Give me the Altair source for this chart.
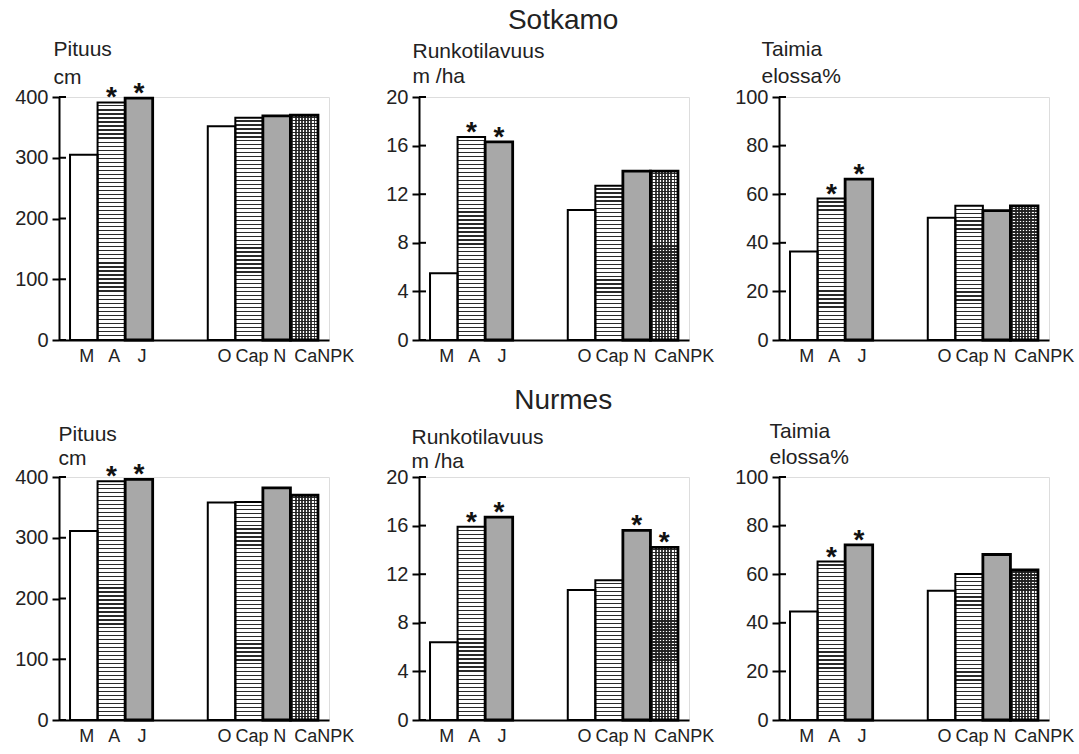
import altair as alt
import pandas as pd

# ---- data ----
slots = ["M", "A", "J", " ", "  ", "O", "Cap", "N", "CaNPK"]   # two blank slots form the gap
bar_cats = ["M", "A", "J", "O", "Cap", "N", "CaNPK"]

sotkamo_pituus = [305, 391, 398, 352, 366, 369, 370]
sotkamo_runko = [5.5, 16.7, 16.3, 10.7, 12.7, 13.9, 13.9]
sotkamo_taimia = [36.4, 58.2, 66.2, 50.3, 55.2, 53.2, 55.2]

nurmes_pituus = [311, 393, 396, 358, 359, 382, 370]
nurmes_runko = [6.4, 15.9, 16.7, 10.7, 11.5, 15.6, 14.2]
nurmes_taimia = [44.7, 65.2, 72.1, 53.2, 60.1, 68.1, 61.8]

sotkamo_stars = [["A", "J"], ["A", "J"], ["A", "J"]]
nurmes_stars = [["A", "J"], ["A", "J", "N", "CaNPK"], ["A", "J"]]

pituus_ticks = [0, 100, 200, 300, 400]
runko_ticks = [0, 4, 8, 12, 16, 20]
taimia_ticks = [0, 20, 40, 60, 80, 100]

FONT = "Liberation Sans"
W, H = 270, 243


def stripes(n, vertical=False, light="#ffffff", dark="#111111", frac=0.62):
    stops = []
    for i in range(n):
        stops += [
            alt.GradientStop(offset=i / n, color=light),
            alt.GradientStop(offset=(i + frac) / n, color=light),
            alt.GradientStop(offset=(i + frac) / n, color=dark),
            alt.GradientStop(offset=(i + 1) / n, color=dark),
        ]
    if vertical:
        return alt.LinearGradient(gradient="linear", stops=stops, x1=0, x2=1, y1=0, y2=0)
    return alt.LinearGradient(gradient="linear", stops=stops, x1=0, x2=0, y1=0, y2=1)


def panel(values, stars, ticks, title_lines, tx, ty, lh):
    ymax = ticks[-1]
    df = pd.DataFrame({"cat": bar_cats, "value": values})
    df["star"] = df["cat"].isin(stars)
    x = alt.X(
        "cat:N",
        scale=alt.Scale(domain=slots, paddingInner=0, paddingOuter=0.4),
        axis=alt.Axis(title=None, ticks=False, labelAngle=0, domainWidth=2,
                      domainColor="black", labelFontSize=18, labelColor="#222",
                      labelPadding=7, labelFont=FONT,
                      labelOffset=alt.condition("datum.value == 'CaNPK'", alt.value(20), alt.value(3))),
    )
    y = alt.Y(
        "value:Q",
        scale=alt.Scale(domain=[0, ymax], nice=False),
        axis=alt.Axis(values=ticks, title=title_lines, titleAngle=0, titleAlign="left",
                      titleBaseline="alphabetic", titleX=tx, titleY=ty, titleLineHeight=lh,
                      titleFontSize=21, titleFontWeight="normal", titleColor="#222",
                      titleFont=FONT, grid=False, tickSize=7, tickWidth=2, tickColor="black",
                      domainWidth=2, domainColor="black", labelFontSize=20, labelColor="#222",
                      labelFont=FONT, labelPadding=4),
    )
    base = alt.Chart(df).encode(x=x, y=y)

    def only(cats):
        return base.transform_filter(alt.FieldOneOfPredicate(field="cat", oneOf=cats))

    layers = [only(["M", "O"]).mark_bar(fill="white", strokeWidth=0)]
    for c in ["A", "Cap"]:
        v = values[bar_cats.index(c)]
        n = max(1, round(v / ymax * H / 4.0))
        layers.append(only([c]).mark_bar(fill=stripes(n, dark="#2a2a2a", frac=0.7), strokeWidth=0))
    layers.append(only(["J", "N"]).mark_bar(fill="#a8a8a8", strokeWidth=0))
    v = values[bar_cats.index("CaNPK")]
    n = max(1, round(v / ymax * H / 3.0))
    layers.append(only(["CaNPK"]).mark_bar(fill=stripes(n, light="#ffffff", dark="#2a2a2a", frac=0.55), strokeWidth=0))
    layers.append(only(["CaNPK"]).mark_bar(fill=stripes(9, vertical=True, light="rgba(0,0,0,0)", dark="rgba(30,30,30,0.85)", frac=0.55), strokeWidth=0))
    layers.append(
        base.mark_bar(fill="white", fillOpacity=0, stroke="black").encode(
            strokeWidth=alt.condition("indexof(['J','N','CaNPK'], datum.cat) >= 0",
                                      alt.value(2.8), alt.value(2))
        )
    )
    layers.append(
        base.transform_filter("datum.star").mark_text(
            text="*", font=FONT, fontSize=28, fontWeight="bold", baseline="alphabetic",
            dy=4, color="#111")
    )
    tick_df = pd.DataFrame({"value": ticks})
    layers.append(
        alt.Chart(tick_df).mark_rule(color="black", strokeWidth=2).encode(
            y=y, x=alt.value(0), x2=alt.value(7))
    )
    return alt.layer(*layers).properties(width=W, height=H)


def row(title, vals, stars, params, offset):
    panels = []
    for (values, st, ticks, tl, p) in zip(vals, stars,
                                          [pituus_ticks, runko_ticks, taimia_ticks],
                                          [["Pituus", "cm"], ["Runkotilavuus", "m /ha"], ["Taimia", "elossa%"]],
                                          params):
        panels.append(panel(values, st, ticks, tl, *p))
    return alt.hconcat(*panels, spacing=90, bounds="flush").properties(
        title=alt.TitleParams(title, font=FONT, fontSize=28, fontWeight="normal",
                              color="#222", anchor="middle", dx=19, offset=offset)
    )


row1 = row("Sotkamo", [sotkamo_pituus, sotkamo_runko, sotkamo_taimia], sotkamo_stars,
           [(-6, -42, 28), (-7, -40, 25), (-18, -42, 27)], 3)
row2 = row("Nurmes", [nurmes_pituus, nurmes_runko, nurmes_taimia], nurmes_stars,
           [(-1, -37, 24), (-8, -34, 24), (-10, -40, 26)], 5)

chart = alt.vconcat(row1, row2, spacing=20).properties(
    padding={"left": 14, "top": 6, "right": 3, "bottom": 3}
).configure_view(stroke=None).configure(font=FONT)

chart.save("out.html", embed_options={"renderer": "svg", "actions": False})
